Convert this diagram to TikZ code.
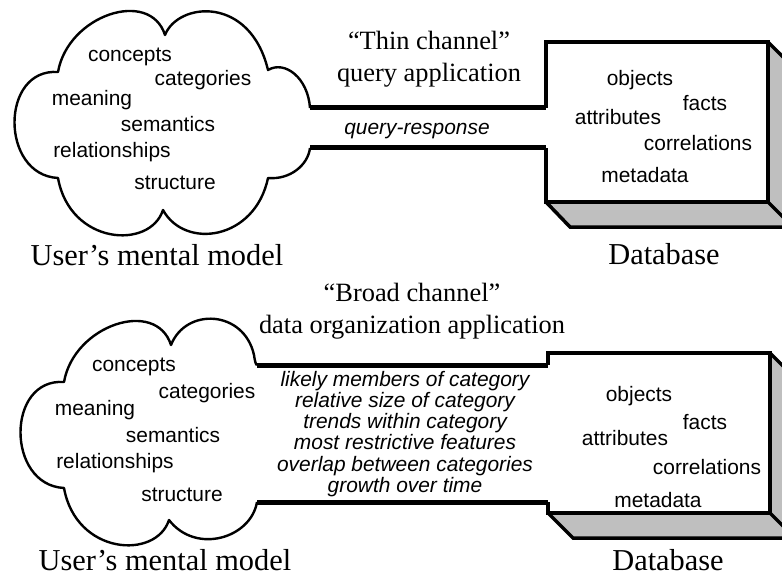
\documentclass[tikz,border=0pt]{standalone}
\usepackage{fontspec}
\setmainfont{Liberation Serif}
\setsansfont{Liberation Sans}
\begin{document}
\begin{tikzpicture}[x=1bp,y=-1bp,
  cloudline/.style={line width=2.4bp, line join=round},
  chan/.style={line width=5bp},
  boxline/.style={line width=3.5bp, line join=miter},
  shade/.style={fill=gray!50},
  item/.style={font=\fontsize{21}{21}\selectfont\sffamily, inner sep=0pt},
  itlist/.style={font=\fontsize{21}{21.2}\selectfont\sffamily\itshape, inner sep=0pt, align=center},
  bigl/.style={font=\fontsize{30.5}{32}\selectfont, inner sep=0pt},
  chl/.style={font=\fontsize{26.5}{32}\selectfont, inner sep=0pt, align=center},
]
\useasboundingbox (0,0) rectangle (782,578);
\clip (0,0) rectangle (782,578);

% ================= TOP PANEL =================
% cloud
\draw[cloudline] (310,148) .. controls (308,165) and (290,180) .. (268,178)
  .. controls (255,240) and (185,250) .. (163,210)
  .. controls (150,250) and (70,245) .. (58,178)
  .. controls (0,175) and (0,68) .. (58,72)
  .. controls (68,15) and (150,-12) .. (165,35)
  .. controls (178,2) and (250,-5) .. (268,70)
  .. controls (285,60) and (308,78) .. (310,108);
% channel
\coordinate (tc1) at (310,108);
\coordinate (tc2) at (546,108);
\coordinate (tc3) at (310,148);
\coordinate (tc4) at (546,148);
\draw[chan] (tc1) -- (tc2);
\draw[chan] (tc3) -- (tc4);
% database box
\fill[shade] (546,202) -- (570,227) -- (800,227) -- (800,67) -- (768,42) -- (768,202) -- cycle;
\draw[boxline] (546,202) -- (570,227) -- (800,227);
\draw[boxline] (768,202) -- (793,227);
\draw[boxline] (768,42) -- (793,67);
\fill[white] (546,42) rectangle (768,202);
\draw[boxline] (tc2) -- (546,42) -- (768,42) -- (768,202) -- (546,202) -- (tc4);

% texts
\node[item] (t1) at (130,57) {concepts};
\node[item] (t2) at (203,80) {categories};
\node[item] (t3) at (92,100) {meaning};
\node[item] (t4) at (168,124) {semantics};
\node[item] (t5) at (112,152) {relationships};
\node[item] (t6) at (175,183) {structure};
\node[bigl] (umm1) at (157,255) {User’s mental model};
\node[bigl] (db1) at (664,254) {Database};
\node[chl] (thin) at (429,59) {“Thin channel”\\query application};
\node[item, font=\fontsize{21}{21}\selectfont\sffamily\itshape] (qr) at (417,131) {query-response};
\node[item] (o1) at (640,80) {objects};
\node[item] (f1) at (705,103) {facts};
\node[item] (a1) at (618,117) {attributes};
\node[item] (c1) at (698,143) {correlations};
\node[item] (m1) at (645,175) {metadata};

% ================= BOTTOM PANEL =================
\begin{scope}[shift={(6,310)}]
\draw[cloudline] (251,192) .. controls (245,228) and (190,245) .. (163,210)
  .. controls (150,250) and (70,245) .. (58,178)
  .. controls (0,175) and (0,68) .. (58,72)
  .. controls (68,15) and (150,-12) .. (165,35)
  .. controls (180,-3) and (238,0) .. (248,45)
  .. controls (249,52) and (250,55) .. (251,55);
\end{scope}
\coordinate (bc1) at (257,365);
\coordinate (bc2) at (548,365);
\coordinate (bc3) at (257,502);
\coordinate (bc4) at (548,502);
\draw[chan] (bc1) -- (bc2);
\draw[chan] (bc3) -- (bc4);
% database box
\fill[shade] (548,513) -- (573,538) -- (800,538) -- (800,378) -- (770,353) -- (770,513) -- cycle;
\draw[boxline] (548,513) -- (573,538) -- (800,538);
\draw[boxline] (770,513) -- (795,538);
\draw[boxline] (770,353) -- (795,378);
\fill[white] (548,353) rectangle (770,513);
\draw[boxline] (bc2) -- (548,353) -- (770,353) -- (770,513) -- (548,513) -- (bc4);

% texts
\node[item] (b1) at (134,367) {concepts};
\node[item] (b2) at (207,393) {categories};
\node[item] (b3) at (95,410) {meaning};
\node[item] (b4) at (173,435) {semantics};
\node[item] (b5) at (115,463) {relationships};
\node[item] (b6) at (182,495) {structure};
\node[bigl] (umm2) at (165,560) {User’s mental model};
\node[bigl] (db2) at (668,560) {Database};
\node[chl] (broad) at (412,311) {“Broad channel”\\data organization application};
\node[itlist] (list) at (405,434) {likely members of category\\relative size of category\\trends within category\\most restrictive features\\overlap between categories\\growth over time};
\node[item] (o2) at (639,396) {objects};
\node[item] (f2) at (705,422) {facts};
\node[item] (a2) at (625,438) {attributes};
\node[item] (c2) at (707,467) {correlations};
\node[item] (m2) at (658,500) {metadata};
\end{tikzpicture}
\end{document}
